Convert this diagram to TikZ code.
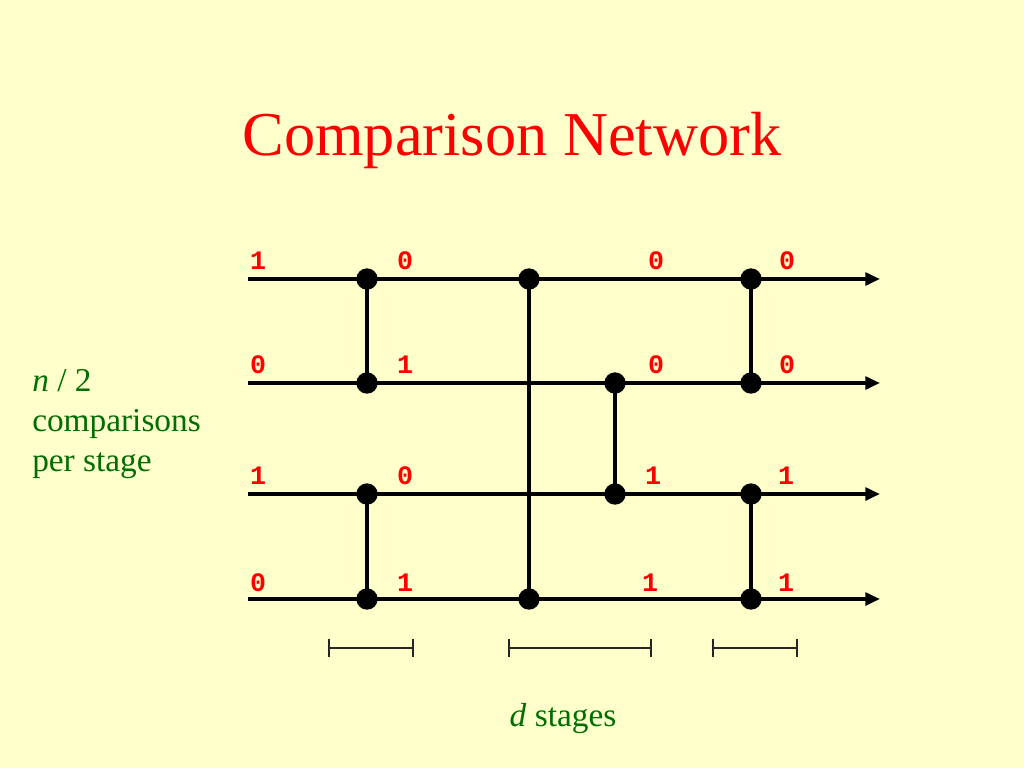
\documentclass[tikz,border=0pt]{standalone}
\usepackage{fontspec}
\setmainfont{Liberation Serif}
\newfontfamily\digitfont{Liberation Mono}
\usetikzlibrary{arrows.meta}
\definecolor{bgyellow}{RGB}{255,255,204}
\definecolor{titlered}{RGB}{255,0,0}
\definecolor{labgreen}{RGB}{0,110,0}
\tikzset{
  wire/.style={line width=3pt, -{Triangle[length=11pt,width=9.5pt]}},
  comp/.style={line width=3pt},
  dot/.style={circle, fill=black, inner sep=0pt, minimum size=16pt},
  bit/.style={text=titlered, font=\digitfont\bfseries\fontsize{20}{22}\selectfont, inner sep=0pt},
  note/.style={text=labgreen, font=\fontsize{25}{30}\selectfont, inner sep=0pt},
  span/.style={line width=1.4pt, draw=black!85, {Bar[width=14pt]}-{Bar[width=14pt]}}
}
\begin{document}
\begin{tikzpicture}[x=0.75pt,y=-0.75pt]
\fill[bgyellow] (0,0) rectangle (1024,768);
\useasboundingbox (0,0) rectangle (1024,768);

\node[text=titlered, font=\fontsize{46.8}{50}\selectfont, inner sep=0pt] (title) at (512,140) {Comparison Network};

% wire endpoints
\foreach \i/\y in {1/279,2/383,3/494,4/599}{
  \coordinate (s\i) at (248,\y);
  \coordinate (e\i) at (880,\y);
}
\foreach \i in {1,...,4}{ \draw[wire] (s\i) -- (e\i); }

% comparator dots
\node[dot] (a1) at (367,279) {};
\node[dot] (a2) at (367,383) {};
\node[dot] (a3) at (367,494) {};
\node[dot] (a4) at (367,599) {};
\node[dot] (b1) at (529,279) {};
\node[dot] (b4) at (529,599) {};
\node[dot] (c2) at (615,383) {};
\node[dot] (c3) at (615,494) {};
\node[dot] (d1) at (751,279) {};
\node[dot] (d2) at (751,383) {};
\node[dot] (d3) at (751,494) {};
\node[dot] (d4) at (751,599) {};

\draw[comp] (a1.center) -- (a2.center);
\draw[comp] (a3.center) -- (a4.center);
\draw[comp] (b1.center) -- (b4.center);
\draw[comp] (c2.center) -- (c3.center);
\draw[comp] (d1.center) -- (d2.center);
\draw[comp] (d3.center) -- (d4.center);

% bit labels
\node[bit] (l11) at (258,261) {1};
\node[bit] (l12) at (405,261) {0};
\node[bit] (l13) at (656,261) {0};
\node[bit] (l14) at (787,261) {0};
\node[bit] (l21) at (258,365) {0};
\node[bit] (l22) at (405,365) {1};
\node[bit] (l23) at (656,365) {0};
\node[bit] (l24) at (787,365) {0};
\node[bit] (l31) at (258,476) {1};
\node[bit] (l32) at (405,476) {0};
\node[bit] (l33) at (653,476) {1};
\node[bit] (l34) at (786,476) {1};
\node[bit] (l41) at (258,583) {0};
\node[bit] (l42) at (405,583) {1};
\node[bit] (l43) at (650,583) {1};
\node[bit] (l44) at (786,583) {1};

% stage spans
\coordinate (p1) at (328,648); \coordinate (q1) at (414,648);
\coordinate (p2) at (508,648); \coordinate (q2) at (652,648);
\coordinate (p3) at (712,648); \coordinate (q3) at (798,648);
\draw[span] (p1) -- (q1);
\draw[span] (p2) -- (q2);
\draw[span] (p3) -- (q3);

\node[note] (stages) at (563,719) {\textit{d} stages};
\node[note, anchor=west, align=left] (perstage) at (32,424) {\textit{n} / 2\\comparisons\\per stage};
\end{tikzpicture}
\end{document}
